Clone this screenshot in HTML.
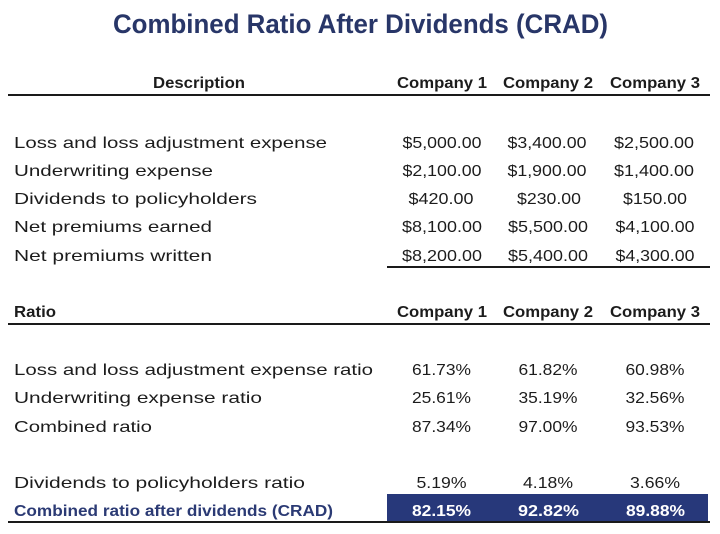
<!DOCTYPE html>
<html>
<head>
<meta charset="utf-8">
<style>
  html, body { margin: 0; padding: 0; background: #ffffff; }
  body { width: 720px; height: 534px; overflow: hidden; }
  svg { display: block; }
  text { font-family: "Liberation Sans", Arial, sans-serif; }
  .t { font-size: 16px; fill: #1c1c1c; }
  .b { font-size: 16px; font-weight: bold; fill: #1c1c1c; }
</style>
</head>
<body>
<svg width="720" height="534" viewBox="0 0 720 534" xmlns="http://www.w3.org/2000/svg">
  <rect x="0" y="0" width="720" height="534" fill="#ffffff"/>

  <!-- Title -->
  <text x="113" y="33" font-size="27" font-weight="bold" fill="#283668" textLength="495" lengthAdjust="spacingAndGlyphs">Combined Ratio After Dividends (CRAD)</text>

  <!-- Header 1 -->
  <text class="b" x="153" y="88" textLength="92" lengthAdjust="spacingAndGlyphs">Description</text>
  <text class="b" x="397" y="88" textLength="90" lengthAdjust="spacingAndGlyphs">Company 1</text>
  <text class="b" x="503" y="88" textLength="90" lengthAdjust="spacingAndGlyphs">Company 2</text>
  <text class="b" x="610" y="88" textLength="90" lengthAdjust="spacingAndGlyphs">Company 3</text>
  <rect x="8" y="94" width="702" height="2" fill="#1a1a1a"/>

  <!-- Description rows -->
  <text class="t" x="14" y="148" textLength="313" lengthAdjust="spacingAndGlyphs">Loss and loss adjustment expense</text>
  <text class="t" x="14" y="176" textLength="199" lengthAdjust="spacingAndGlyphs">Underwriting expense</text>
  <text class="t" x="14" y="204" textLength="243" lengthAdjust="spacingAndGlyphs">Dividends to policyholders</text>
  <text class="t" x="14" y="232" textLength="198" lengthAdjust="spacingAndGlyphs">Net premiums earned</text>
  <text class="t" x="14" y="261" textLength="198" lengthAdjust="spacingAndGlyphs">Net premiums written</text>

  <g class="t" text-anchor="middle">
    <text x="442" y="148" textLength="79" lengthAdjust="spacingAndGlyphs">$5,000.00</text>
    <text x="547" y="148" textLength="79" lengthAdjust="spacingAndGlyphs">$3,400.00</text>
    <text x="654" y="148" textLength="80" lengthAdjust="spacingAndGlyphs">$2,500.00</text>

    <text x="442" y="176" textLength="79" lengthAdjust="spacingAndGlyphs">$2,100.00</text>
    <text x="547" y="176" textLength="79" lengthAdjust="spacingAndGlyphs">$1,900.00</text>
    <text x="654" y="176" textLength="80" lengthAdjust="spacingAndGlyphs">$1,400.00</text>

    <text x="441" y="204" textLength="65" lengthAdjust="spacingAndGlyphs">$420.00</text>
    <text x="549" y="204" textLength="64" lengthAdjust="spacingAndGlyphs">$230.00</text>
    <text x="655" y="204" textLength="64" lengthAdjust="spacingAndGlyphs">$150.00</text>

    <text x="442" y="232" textLength="80" lengthAdjust="spacingAndGlyphs">$8,100.00</text>
    <text x="548" y="232" textLength="80" lengthAdjust="spacingAndGlyphs">$5,500.00</text>
    <text x="655" y="232" textLength="79" lengthAdjust="spacingAndGlyphs">$4,100.00</text>

    <text x="442" y="261" textLength="80" lengthAdjust="spacingAndGlyphs">$8,200.00</text>
    <text x="548" y="261" textLength="80" lengthAdjust="spacingAndGlyphs">$5,400.00</text>
    <text x="655" y="261" textLength="79" lengthAdjust="spacingAndGlyphs">$4,300.00</text>
  </g>
  <rect x="387" y="266" width="323" height="2" fill="#1a1a1a"/>

  <!-- Header 2 -->
  <text class="b" x="14" y="317" textLength="42" lengthAdjust="spacingAndGlyphs">Ratio</text>
  <text class="b" x="397" y="317" textLength="90" lengthAdjust="spacingAndGlyphs">Company 1</text>
  <text class="b" x="503" y="317" textLength="90" lengthAdjust="spacingAndGlyphs">Company 2</text>
  <text class="b" x="610" y="317" textLength="90" lengthAdjust="spacingAndGlyphs">Company 3</text>
  <rect x="8" y="323" width="702" height="2" fill="#1a1a1a"/>

  <!-- Ratio rows -->
  <text class="t" x="14" y="375" textLength="359" lengthAdjust="spacingAndGlyphs">Loss and loss adjustment expense ratio</text>
  <text class="t" x="14" y="403" textLength="248" lengthAdjust="spacingAndGlyphs">Underwriting expense ratio</text>
  <text class="t" x="14" y="432" textLength="138" lengthAdjust="spacingAndGlyphs">Combined ratio</text>
  <text class="t" x="14" y="488" textLength="291" lengthAdjust="spacingAndGlyphs">Dividends to policyholders ratio</text>

  <g class="t" text-anchor="middle">
    <text x="441.5" y="375" textLength="59" lengthAdjust="spacingAndGlyphs">61.73%</text>
    <text x="548" y="375" textLength="59" lengthAdjust="spacingAndGlyphs">61.82%</text>
    <text x="655" y="375" textLength="59" lengthAdjust="spacingAndGlyphs">60.98%</text>

    <text x="441.5" y="403" textLength="59" lengthAdjust="spacingAndGlyphs">25.61%</text>
    <text x="548" y="403" textLength="59" lengthAdjust="spacingAndGlyphs">35.19%</text>
    <text x="655" y="403" textLength="59" lengthAdjust="spacingAndGlyphs">32.56%</text>

    <text x="441.5" y="432" textLength="59" lengthAdjust="spacingAndGlyphs">87.34%</text>
    <text x="548" y="432" textLength="59" lengthAdjust="spacingAndGlyphs">97.00%</text>
    <text x="655" y="432" textLength="59" lengthAdjust="spacingAndGlyphs">93.53%</text>

    <text x="441.5" y="488" textLength="50" lengthAdjust="spacingAndGlyphs">5.19%</text>
    <text x="548" y="488" textLength="50" lengthAdjust="spacingAndGlyphs">4.18%</text>
    <text x="655" y="488" textLength="50" lengthAdjust="spacingAndGlyphs">3.66%</text>
  </g>

  <!-- CRAD row -->
  <rect x="387" y="494" width="321" height="28" fill="#27387a"/>
  <text x="14" y="516" font-size="16" font-weight="bold" fill="#2b3a74" textLength="319" lengthAdjust="spacingAndGlyphs">Combined ratio after dividends (CRAD)</text>
  <g text-anchor="middle" font-size="16" font-weight="bold" fill="#ffffff">
    <text x="441.5" y="516" textLength="59" lengthAdjust="spacingAndGlyphs">82.15%</text>
    <text x="548.5" y="516" textLength="61" lengthAdjust="spacingAndGlyphs">92.82%</text>
    <text x="655.5" y="516" textLength="59" lengthAdjust="spacingAndGlyphs">89.88%</text>
  </g>
  <rect x="8" y="521" width="702" height="2" fill="#1a1a1a"/>
</svg>
</body>
</html>
